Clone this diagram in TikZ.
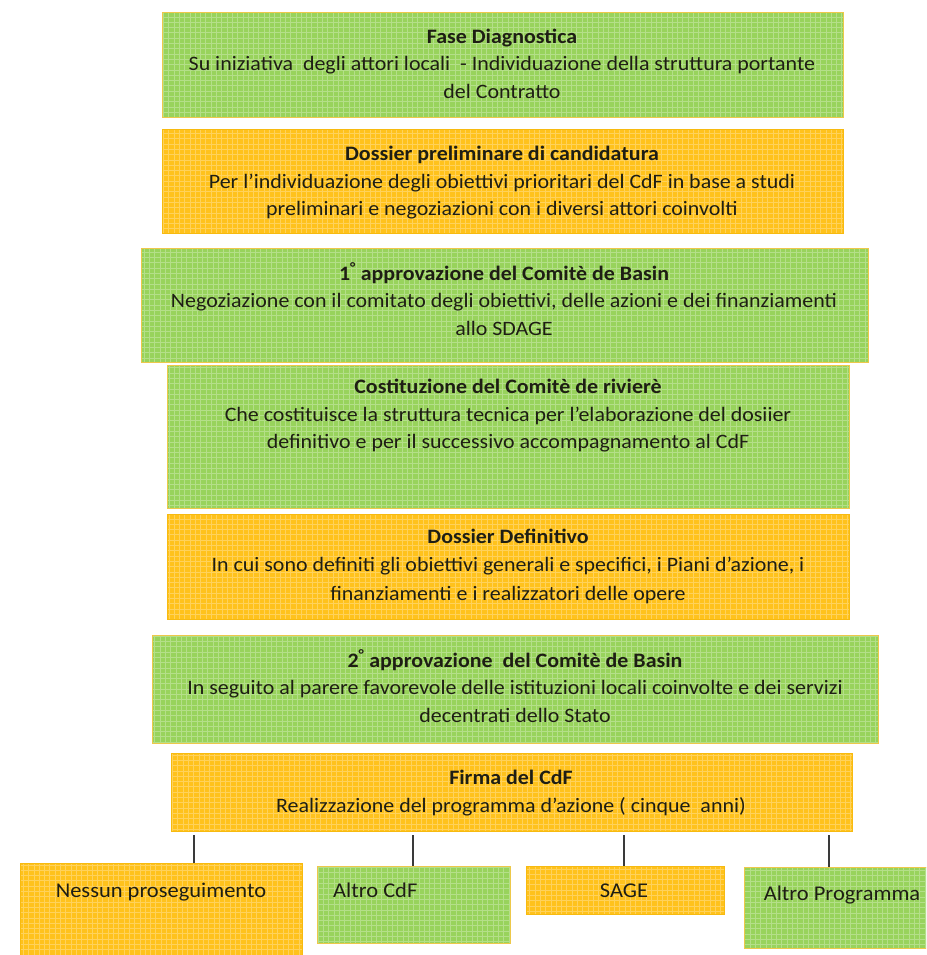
\documentclass[tikz,border=0pt]{standalone}
\usepackage{fontspec}
\setmainfont{Carlito}[FakeStretch=1.07]
\usetikzlibrary{calc}
\definecolor{gfill}{HTML}{98D35C}
\definecolor{ofill}{HTML}{FFC21C}
\definecolor{gedge}{HTML}{EDC84A}
\definecolor{oedge}{HTML}{F7BA10}
\definecolor{txt}{HTML}{1E1E14}
\definecolor{conncol}{HTML}{3A3A3A}
\tikzset{
  boxbase/.style={rectangle, inner sep=0pt, outer sep=0pt, anchor=north west, line width=0.9pt,
    path picture={\draw[white, opacity=0.28, line width=0.5pt, step=5.3pt]
      (path picture bounding box.south west) grid (path picture bounding box.north east);}},
  gbox/.style={boxbase, fill=gfill, draw=gedge},
  obox/.style={boxbase, fill=ofill, draw=oedge},
  btext/.style={inner sep=0pt, anchor=north, align=center, text=txt,
    font=\fontsize{20.5}{27.5}\selectfont},
  stext/.style={inner sep=0pt, anchor=base, text=txt, font=\fontsize{21}{24}\selectfont},
  conn/.style={draw=conncol, line width=1.4pt, shorten <=4pt}
}
\newcommand{\bx}[6]{% name, style, x1, y1, x2, y2
  \node[#2, minimum width={(#5-#3)*1pt}, minimum height={(#6-#4)*1pt}] (#1) at (#3pt,-#4pt) {};}
\begin{document}
\begin{tikzpicture}
\useasboundingbox (0pt,0pt) rectangle (926pt,-955pt);
\begin{scope}
\clip (0pt,0pt) rectangle (926pt,-955pt);
\bx{b1}{gbox}{162}{12}{843}{117}
\bx{b2}{obox}{162}{129}{843}{233}
\bx{b3}{gbox}{141}{248}{868}{362}
\bx{b4}{gbox}{167}{365}{849}{508}
\bx{b5}{obox}{167}{514}{849}{619}
\bx{b6}{gbox}{152}{635}{878}{743}
\bx{b7}{obox}{171}{753}{852}{831}
\bx{n1}{obox}{20}{863}{302}{962}
\bx{n2}{gbox}{317}{866}{510}{943}
\bx{n3}{obox}{526}{866}{724}{914}
\bx{n4}{gbox}{744}{867}{936}{948}
\end{scope}

\node[btext] (t1) at (502pt,-28.5pt) {\textbf{Fase Diagnostica}\\Su iniziativa\ \ degli attori locali\ \ - Individuazione della struttura portante\\del Contratto};
\node[btext] (t2) at (502pt,-146pt) {\textbf{Dossier preliminare di candidatura}\\Per l’individuazione degli obiettivi prioritari del CdF in base a studi\\preliminari e negoziazioni con i diversi attori coinvolti};
\node[btext] (t3) at (504pt,-262.5pt) {\textbf{1\textsuperscript{°} approvazione del Comitè de Basin}\\Negoziazione con il comitato degli obiettivi, delle azioni e dei finanziamenti\\allo SDAGE};
\node[btext] (t4) at (508pt,-379pt) {\textbf{Costituzione del Comitè de rivierè}\\Che costituisce la struttura tecnica per l’elaborazione del dosiier\\definitivo e per il successivo accompagnamento al CdF};
\node[btext, font=\fontsize{20.5}{28.5}\selectfont] (t5) at (508pt,-528.5pt) {\textbf{Dossier Definitivo}\\In cui sono definiti gli obiettivi generali e specifici, i Piani d’azione, i\\finanziamenti e i realizzatori delle opere};
\node[btext] (t6) at (515pt,-649.5pt) {\textbf{2\textsuperscript{°} approvazione\ \ del Comitè de Basin}\\In seguito al parere favorevole delle istituzioni locali coinvolte e dei servizi\\decentrati dello Stato};
\node[btext] (t7) at (511pt,-770pt) {\textbf{Firma del CdF}\\Realizzazione del programma d’azione ( cinque\ \ anni)};

\node[stext] (s1) at (161pt,-897.5pt) {Nessun proseguimento};
\node[stext, anchor=base west] (s2) at (333pt,-897.5pt) {Altro CdF};
\node[stext] (s3) at (624pt,-897.5pt) {SAGE};
\node[stext] (s4) at (842pt,-900.5pt) {Altro Programma};

\coordinate (c1) at (194pt,0pt);
\coordinate (c2) at (413pt,0pt);
\coordinate (c3) at (624pt,0pt);
\coordinate (c4) at (829pt,0pt);
\draw[conn] (b7.south -| c1) -- (n1.north -| c1);
\draw[conn] (b7.south -| c2) -- (n2.north -| c2);
\draw[conn] (b7.south -| c3) -- (n3.north -| c3);
\draw[conn] (b7.south -| c4) -- (n4.north -| c4);
\end{tikzpicture}
\end{document}
